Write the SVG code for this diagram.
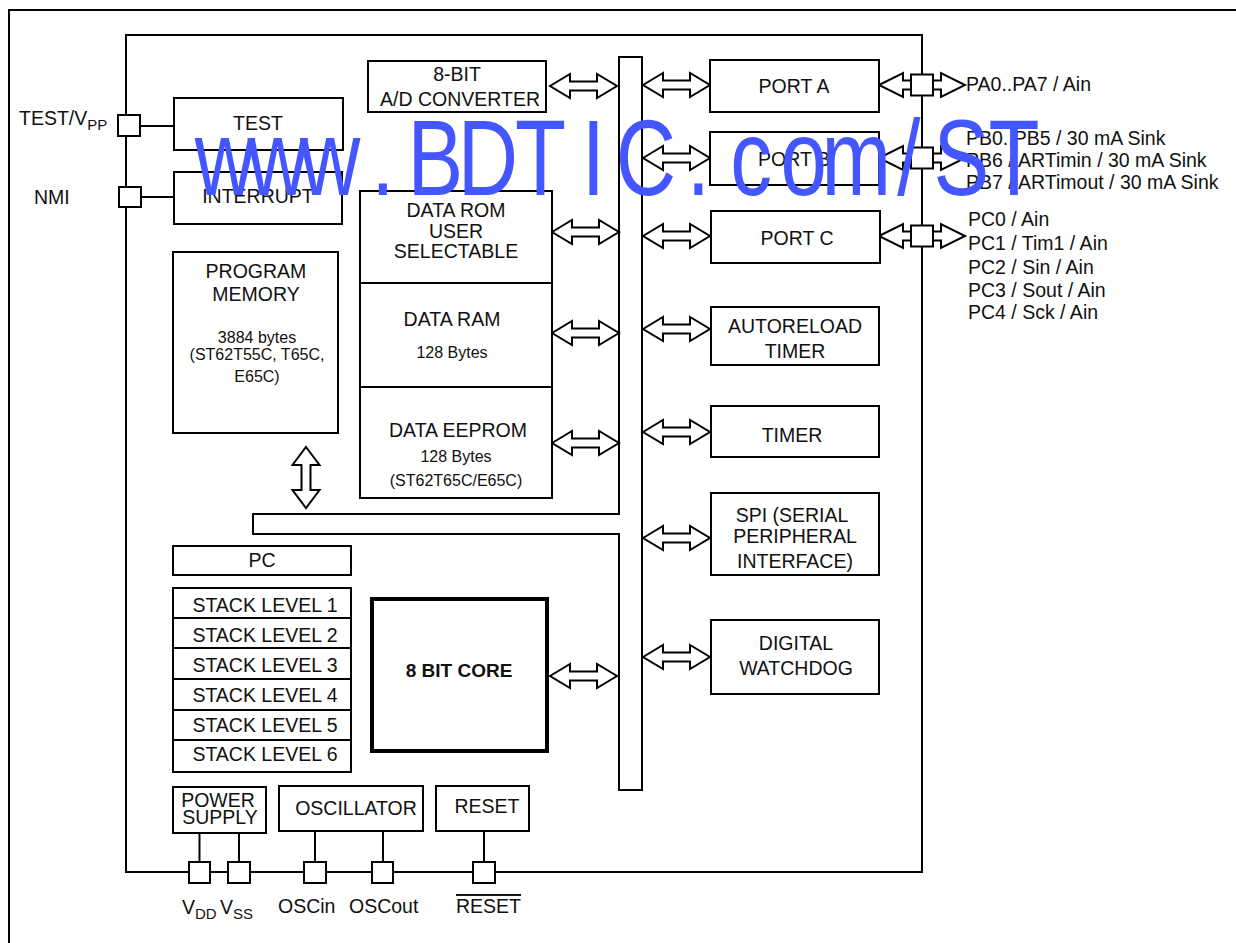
<svg xmlns="http://www.w3.org/2000/svg" xmlns:xlink="http://www.w3.org/1999/xlink" width="1236" height="943" viewBox="0 0 1236 943">
<style>
.b{fill:#fff;stroke:#000;stroke-width:2}
.n{fill:none;stroke:#000;stroke-width:2}
.l{stroke:#000;stroke-width:2;fill:none}
text{font-family:"Liberation Sans",Arial,sans-serif;font-size:19.5px;fill:#111}
.c{text-anchor:middle}
text.s{font-size:16px}
text.m{font-size:16px}
text.k{font-size:19px;font-weight:bold}
.sub{font-size:15px}
text.wm{font-size:107px;fill:#4356ff;text-anchor:middle}
</style>
<defs>
<path id="da" d="M0,0 L20,-12 L20,-4.5 L47,-4.5 L47,-12 L67,0 L47,12 L47,4.5 L20,4.5 L20,12 Z" fill="#fff" stroke="#000" stroke-width="2"/>
<path id="pa" d="M0,0 L24,-12 L24,-4.5 L62,-4.5 L62,-12 L86,0 L62,12 L62,4.5 L24,4.5 L24,12 Z" fill="#fff" stroke="#000" stroke-width="2"/>
</defs>
<rect width="1236" height="943" fill="#fff"/>
<g id="frame">
<path class="l" d="M9,943 V10 H1236"/>
<rect id="chip" class="n" x="126" y="35" width="796" height="837"/>
</g>
<g id="bus">
<path class="b" d="M619,57 H642 V790 H619 V534 H253 V514 H619 Z"/>
</g>
<g id="connectors">
<use href="#da" x="550" y="86"/>
<use href="#da" x="552" y="232"/>
<use href="#da" x="552" y="333"/>
<use href="#da" x="552" y="443"/>
<use href="#da" x="550" y="676"/>
<use href="#da" x="643" y="85"/>
<use href="#da" x="643" y="158"/>
<use href="#da" x="643" y="236"/>
<use href="#da" x="643" y="329"/>
<use href="#da" x="643" y="432"/>
<use href="#da" x="643" y="538"/>
<use href="#da" x="643" y="657"/>
<path d="M306,447 L319.5,465 L310.5,465 L310.5,490 L319.5,490 L306,508 L292.5,490 L301.5,490 L301.5,465 L292.5,465 Z" fill="#fff" stroke="#000" stroke-width="2"/>
<use href="#pa" x="879" y="85"/>
<use href="#pa" x="879" y="158"/>
<use href="#pa" x="879" y="236"/>
<path class="l" d="M140,126 H174 M140,197 H174 M199.5,833 V862 M239,833 V862 M315,831 V862 M383,831 V862 M484,831 V862"/>
</g>
<g id="pins">
<rect class="b" x="118" y="115" width="22" height="21"/>
<rect class="b" x="119" y="187" width="22" height="20"/>
<rect class="b" x="911" y="74.5" width="22" height="21"/>
<rect class="b" x="911" y="147.5" width="22" height="21"/>
<rect class="b" x="911" y="225.5" width="22" height="21"/>
<rect class="b" x="189" y="862" width="21" height="21"/>
<rect class="b" x="228" y="862" width="22" height="21"/>
<rect class="b" x="304" y="862" width="22" height="21"/>
<rect class="b" x="372" y="862" width="21" height="21"/>
<rect class="b" x="473" y="862" width="22" height="21"/>
</g>
<g id="pin-labels">
<text x="19" y="125">TEST/V<tspan class="sub" dy="5">PP</tspan></text>
<text x="34" y="204">NMI</text>
<text x="966" y="91">PA0..PA7 / Ain</text>
<text x="966" y="145">PB0..PB5 / 30 mA Sink</text>
<text x="966" y="167">PB6 / ARTimin / 30 mA Sink</text>
<text x="966" y="189">PB7 / ARTimout / 30 mA Sink</text>
<text x="968" y="226">PC0 / Ain</text>
<text x="968" y="250">PC1 / Tim1 / Ain</text>
<text x="968" y="274">PC2 / Sin / Ain</text>
<text x="968" y="297">PC3 / Sout / Ain</text>
<text x="968" y="319">PC4 / Sck / Ain</text>
<text x="182" y="914">V<tspan class="sub" dy="5">DD</tspan></text>
<text x="220" y="914">V<tspan class="sub" dy="5">SS</tspan></text>
<text x="278" y="913">OSCin</text>
<text x="349" y="913">OSCout</text>
<text x="456" y="913" text-decoration="overline">RESET</text>
</g>
<g id="test"><rect class="b" x="174" y="98" width="169" height="52"/><text class="c" x="258" y="130">TEST</text></g>
<g id="interrupt"><rect class="b" x="174" y="172" width="168" height="52"/><text class="c" x="258" y="203">INTERRUPT</text></g>
<g id="adc"><rect class="b" x="368" y="61" width="178" height="51"/><text class="c" x="457" y="81">8-BIT</text><text class="c" x="460" y="106">A/D CONVERTER</text></g>
<g id="data-mem">
<rect class="b" x="360" y="191" width="192" height="307"/>
<path class="l" d="M360,283 H552 M360,387 H552"/>
<text class="c" x="456" y="217">DATA ROM</text>
<text class="c" x="456" y="238">USER</text>
<text class="c" x="456" y="258">SELECTABLE</text>
<text class="c" x="452" y="326">DATA RAM</text>
<text class="c s" x="452" y="358">128 Bytes</text>
<text class="c" x="458" y="437">DATA EEPROM</text>
<text class="c s" x="456" y="462">128 Bytes</text>
<text class="c s" x="456" y="486">(ST62T65C/E65C)</text>
</g>
<g id="program-memory">
<rect class="b" x="173" y="252" width="165" height="181"/>
<text class="c" x="256" y="278">PROGRAM</text>
<text class="c" x="256" y="301">MEMORY</text>
<text class="c m" x="257" y="343">3884 bytes</text>
<text class="c m" x="257" y="360">(ST62T55C, T65C,</text>
<text class="c m" x="257" y="382">E65C)</text>
</g>
<g id="pc"><rect class="b" x="173" y="546" width="178" height="29"/><text class="c" x="262" y="567">PC</text></g>
<g id="stack">
<rect class="b" x="173" y="588" width="178" height="184"/>
<path class="l" d="M173,618 H351 M173,648 H351 M173,679 H351 M173,710 H351 M173,740 H351"/>
<text class="c" x="265" y="612">STACK LEVEL 1</text>
<text class="c" x="265" y="642">STACK LEVEL 2</text>
<text class="c" x="265" y="672">STACK LEVEL 3</text>
<text class="c" x="265" y="702">STACK LEVEL 4</text>
<text class="c" x="265" y="732">STACK LEVEL 5</text>
<text class="c" x="265" y="761">STACK LEVEL 6</text>
</g>
<g id="core"><rect x="372" y="599" width="175" height="152" fill="#fff" stroke="#000" stroke-width="4"/><text class="c k" x="459" y="677">8 BIT CORE</text></g>
<g id="port-a"><rect class="b" x="710" y="60" width="169" height="52"/><text class="c" x="794" y="93">PORT A</text></g>
<g id="port-b"><rect class="b" x="710" y="132" width="169" height="53"/><text class="c" x="794" y="166">PORT B</text></g>
<g id="port-c"><rect class="b" x="711" y="211" width="169" height="52"/><text class="c" x="797" y="245">PORT C</text></g>
<g id="autoreload"><rect class="b" x="711" y="307" width="168" height="58"/><text class="c" x="795" y="333">AUTORELOAD</text><text class="c" x="795" y="358">TIMER</text></g>
<g id="timer"><rect class="b" x="711" y="406" width="168" height="51"/><text class="c" x="792" y="442">TIMER</text></g>
<g id="spi"><rect class="b" x="711" y="493" width="168" height="82"/><text class="c" x="792" y="522">SPI (SERIAL</text><text class="c" x="795" y="543">PERIPHERAL</text><text class="c" x="795" y="568">INTERFACE)</text></g>
<g id="watchdog"><rect class="b" x="711" y="620" width="168" height="74"/><text class="c" x="796" y="650">DIGITAL</text><text class="c" x="796" y="675">WATCHDOG</text></g>
<g id="power"><rect class="b" x="173" y="787" width="93" height="46"/><text class="c" x="218" y="807">POWER</text><text class="c" x="220" y="824">SUPPLY</text></g>
<g id="oscillator"><rect class="b" x="279" y="786" width="144" height="45"/><text class="c" x="356" y="815">OSCILLATOR</text></g>
<g id="reset"><rect class="b" x="436" y="786" width="93" height="45"/><text class="c" x="487" y="813">RESET</text></g>
<g id="watermark">
<text class="wm" transform="translate(225,195) scale(0.78,1)" x="0 67.4 134.9 202.3 269.7 337.2 404.6 472.1 539.5 606.9 674.4 741.8 809.2 876.7 944.1 1011.5" y="0">www.BDTIC.com/ST</text>
</g>
</svg>
